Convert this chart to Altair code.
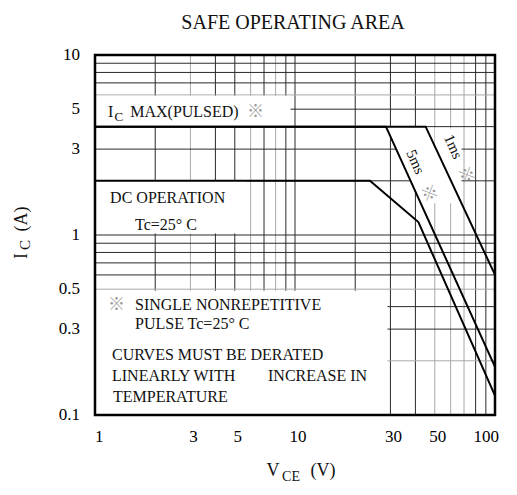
import altair as alt
import pandas as pd
import numpy as np

# ---------------- data ----------------
x_ticks = [1, 3, 5, 10, 30, 50, 100]
y_ticks = [0.1, 0.3, 0.5, 1, 3, 5, 10]
x_grid = [2, 3, 4, 5, 6, 7, 8, 9, 10, 20, 30, 40, 50, 60, 70, 80, 90]
x_grid_gray = [3, 6, 8, 50, 60, 70]
y_grid = [0.2, 0.3, 0.4, 0.5, 0.6, 0.7, 0.8, 0.9, 1, 2, 3, 4, 5, 6, 7, 8, 9]
y_grid_gray = [0.2, 0.5, 6]

dc_v = [1, 23.7, 41.4, 100]
dc_i = [2, 2, 1.18, 0.128]
ms5_v = [1, 28.5, 100]
ms5_i = [4, 4, 0.185]
ms1_v = [1, 45, 100]
ms1_i = [4, 4, 0.6]

title_text = "SAFE OPERATING AREA"
note_texts = ["MAX(PULSED)", "DC OPERATION", "Tc=25° C", "SINGLE NONREPETITIVE",
              "PULSE Tc=25° C", "CURVES MUST BE DERATED", "LINEARLY WITH",
              "INCREASE IN", "TEMPERATURE", "5ms", "1ms"]
MARK = "※"

SERIF = "Liberation Serif"
CJK = "Noto Sans CJK JP"
DARK = "#2a2a2a"
GRAY = "#a8a8a8"

XS = alt.Scale(type="log", domain=[1, 100], nice=False)
YS = alt.Scale(type="log", domain=[0.1, 10], nice=False)

# ---------------- grid ----------------
vg = pd.DataFrame({"v": x_grid, "c": [GRAY if v in x_grid_gray else DARK for v in x_grid]})
hg = pd.DataFrame({"i": y_grid, "c": [GRAY if v in y_grid_gray else DARK for v in y_grid]})

vgrid = alt.Chart(vg).mark_rule(strokeWidth=1).encode(
    x=alt.X("v:Q", scale=XS, axis=None),
    color=alt.Color("c:N", scale=None),
)
hgrid = alt.Chart(hg).mark_rule(strokeWidth=1).encode(
    y=alt.Y("i:Q", scale=YS, axis=None),
    color=alt.Color("c:N", scale=None),
)

# ---------------- tick labels ----------------
def fmt(v):
    return f"{v:g}"


xt = pd.DataFrame({"v": x_ticks, "t": [fmt(v) for v in x_ticks]})
yt = pd.DataFrame({"i": y_ticks, "t": [fmt(v) for v in y_ticks]})

xlab_first = alt.Chart(xt.iloc[:1]).mark_text(
    align="left", baseline="middle", font=SERIF, fontSize=17, color="black").encode(
    x=alt.X("v:Q", scale=XS, axis=None), y=alt.value(382), text="t:N")
xlab_mid = alt.Chart(xt.iloc[1:-1]).mark_text(
    align="center", baseline="middle", font=SERIF, fontSize=17, color="black", dx=3).encode(
    x=alt.X("v:Q", scale=XS, axis=None), y=alt.value(382), text="t:N")
xlab_last = alt.Chart(xt.iloc[-1:]).mark_text(
    align="right", baseline="middle", font=SERIF, fontSize=17, color="black", dx=4).encode(
    x=alt.X("v:Q", scale=XS, axis=None), y=alt.value(382), text="t:N")
ylab = alt.Chart(yt).mark_text(
    align="right", baseline="middle", font=SERIF, fontSize=17, color="black").encode(
    y=alt.Y("i:Q", scale=YS, axis=None), x=alt.value(-15), text="t:N")

# ---------------- white masks behind the notes ----------------
boxes = pd.DataFrame({
    "x0": [1, 1, 1, 50],
    "x1": [9.5, 5.7, 29, 68],
    "y0": [4, 1.02, 0.1, 1.95],
    "y1": [5.94, 2, 0.49, 3.9],
})
masks = alt.Chart(boxes).mark_rect(color="white").encode(
    x=alt.X("x0:Q", scale=XS, axis=None), x2="x1:Q",
    y=alt.Y("y0:Q", scale=YS, axis=None), y2="y1:Q",
)


def x_at(vs, cs, cur):
    lv, lc = np.log10(vs)[::-1], np.log10(cs)[::-1]
    return float(10 ** np.interp(np.log10(cur), lc, lv))


ybot = 1.5
x5b = x_at(ms5_v, ms5_i, ybot)
x1b = x_at(ms1_v, ms1_i, ybot)
band = pd.DataFrame({
    "x": [ms5_v[1], x5b, ms1_v[1], x1b],
    "top": [ms5_i[1], ms1_i[1], ms1_i[1], ybot],
    "bot": [ms5_i[1], ybot, ybot, ybot],
})
band_mask = alt.Chart(band).mark_area(color="white").encode(
    x=alt.X("x:Q", scale=XS, axis=None),
    y=alt.Y("top:Q", scale=YS, axis=None), y2="bot:Q",
)

# ---------------- curves ----------------
curves = pd.concat([
    pd.DataFrame({"v": dc_v, "i": dc_i, "s": "DC"}),
    pd.DataFrame({"v": ms5_v, "i": ms5_i, "s": "5ms"}),
    pd.DataFrame({"v": ms1_v, "i": ms1_i, "s": "1ms"}),
])
lines = alt.Chart(curves).mark_line(color="black", strokeWidth=2).encode(
    x=alt.X("v:Q", scale=XS, axis=None),
    y=alt.Y("i:Q", scale=YS, axis=None),
    detail="s:N",
)


# ---------------- text helpers ----------------
def note(text, x, y, size=16, color="#111", angle=0, align="left", font=SERIF):
    df = pd.DataFrame({"t": [text], "xv": [x], "yv": [y]})
    return alt.Chart(df).mark_text(align=align, baseline="middle", fontSize=size,
                                   color=color, angle=angle, font=font).encode(
        x=alt.X("xv:Q", scale=XS, axis=None),
        y=alt.Y("yv:Q", scale=YS, axis=None),
        text="t:N",
    )


def px(text, x, y, size=18, color="#111", angle=0, align="center", font=SERIF):
    df = pd.DataFrame({"t": [text]})
    return alt.Chart(df).mark_text(align=align, baseline="middle", fontSize=size,
                                   color=color, angle=angle, font=font).encode(
        x=alt.value(x), y=alt.value(y), text="t:N",
    )


texts = [
    note("I", 1.161, 4.82),
    note("C", 1.25, 4.52, size=13),
    note(note_texts[0], 1.50, 4.82),
    note(MARK, 5.75, 4.82, size=17, color="#999", font=CJK),
    note(note_texts[1], 1.19, 1.61),
    note(note_texts[2], 1.585, 1.14),
    note(MARK, 1.16, 0.408, size=17, color="#999", font=CJK),
    note(note_texts[3], 1.585, 0.408),
    note(note_texts[4], 1.585, 0.321),
    note(note_texts[5], 1.216, 0.215),
    note(note_texts[6], 1.216, 0.165),
    note(note_texts[7], 7.33, 0.165),
    note(note_texts[8], 1.23, 0.126),
    note(note_texts[9], 40.1, 2.55, size=15, angle=66, align="center"),
    note(MARK, 46.4, 1.70, size=17, color="#999", angle=66, align="center", font=CJK),
    note(note_texts[10], 61.9, 3.1, size=15, angle=66, align="center"),
    note(MARK, 71.3, 2.15, size=17, color="#999", angle=66, align="center", font=CJK),
]

frame = alt.Chart(pd.DataFrame({"a": [0]})).mark_rect(
    filled=False, stroke="black", strokeWidth=2.5).encode(
    x=alt.value(0), x2=alt.value(400), y=alt.value(0), y2=alt.value(360))

titles = [
    px(title_text, 198, -32, size=20),
    px("V", 178, 416, size=18),
    px("CE", 196, 422, size=14),
    px("(V)", 228, 416, size=18),
    px("I", -73, 201, size=18, angle=270),
    px("C", -70, 190, size=15, angle=270),
    px("(A)", -73, 164, size=18, angle=270),
]

chart = alt.layer(vgrid, hgrid, masks, band_mask, lines, *texts, frame,
                  xlab_first, xlab_mid, xlab_last, ylab, *titles).properties(
    width=400, height=360,
    autosize=alt.AutoSizeParams(type="none"),
    padding={"left": 87, "top": 47, "right": 14, "bottom": 72},
).configure_view(strokeWidth=0)

chart.save("out.html", embed_options={"renderer": "svg", "actions": False})
